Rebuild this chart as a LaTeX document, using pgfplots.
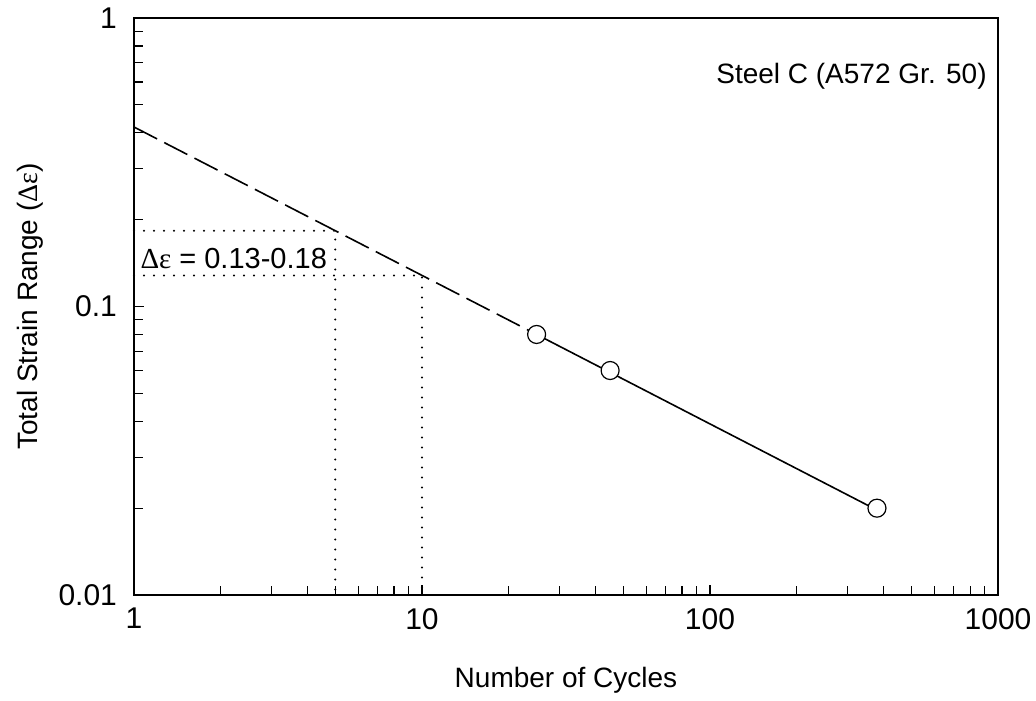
\documentclass[border=0pt]{standalone}
\usepackage{fontspec}
\setmainfont{Liberation Sans}
\newfontfamily\serifgr{Liberation Serif}
\usepackage{pgfplots}
\pgfplotsset{compat=1.18}
\begin{document}
\begin{tikzpicture}[font=\fontsize{14}{17}\selectfont]
\useasboundingbox (-67pt,-52.5pt) rectangle (451pt,297.5pt);
\begin{axis}[
  at={(0,0)}, anchor=south west,
  scale only axis, width=432pt, height=288.5pt,
  xmode=log, ymode=log,
  xmin=1, xmax=1000, ymin=0.01, ymax=1,
  xtick={1,10,100,1000}, xticklabels={1,10,100,1000},
  ytick={0.01,0.1,1}, yticklabels={0.01,0.1,1},
  minor xtick={2,3,4,5,6,7,8,9,20,30,40,50,60,70,80,90,200,300,400,500,600,700,800,900},
  minor ytick={0.02,0.03,0.04,0.05,0.06,0.07,0.08,0.09,0.2,0.3,0.4,0.5,0.6,0.7,0.8,0.9},
  xtick pos=bottom, ytick pos=left,
  tick align=inside,
  major tick length=5pt, minor tick length=4.5pt,
  every tick/.style={black, line width=0.6pt},
  axis line style={line width=0.6pt},
  tick label style={font=\fontsize{15}{18}\selectfont},
  xticklabel style={yshift=-3pt},
  yticklabel style={xshift=-5pt},
  xlabel={Number of Cycles},
  ylabel={Total Strain Range ({\serifgr Δε})},
  label style={font=\fontsize{14}{17}\selectfont},
  every axis x label/.style={at={(axis description cs:0.5,0)}, anchor=center, yshift=-42.5pt},
  every axis y label/.style={at={(axis description cs:-0.1204,0.5)}, rotate=90, anchor=center},
  clip=false,
]
% dotted guide lines
\addplot[black, line width=1.1pt, line cap=round, dash pattern=on 0pt off 5pt] coordinates {(1,0.183) (5,0.183) (5,0.01)};
\addplot[black, line width=1.1pt, line cap=round, dash pattern=on 0pt off 5pt] coordinates {(1,0.128) (10,0.128) (10,0.01)};
% dashed extrapolation
\addplot[black, line width=0.8pt, dash pattern=on 13pt off 4pt] coordinates {(1,0.419) (25,0.08)};
% solid fit
\addplot[black, line width=0.8pt] coordinates {(25,0.08) (380,0.0197)};
% data points
\addplot[only marks, mark=*, mark size=4.5pt, mark options={fill=white, draw=black, line width=0.6pt}] coordinates {(25,0.08) (45,0.06) (380,0.02)};
\node[anchor=east, inner sep=0pt] at (axis cs:916,0.63) {Steel C (A572 Gr. 50)};
\node[anchor=west, inner sep=0pt, font=\fontsize{14.5}{17}\selectfont] at (axis cs:1.05,0.147) {{\serifgr Δε} = 0.13-0.18};
\end{axis}
\end{tikzpicture}
\end{document}
